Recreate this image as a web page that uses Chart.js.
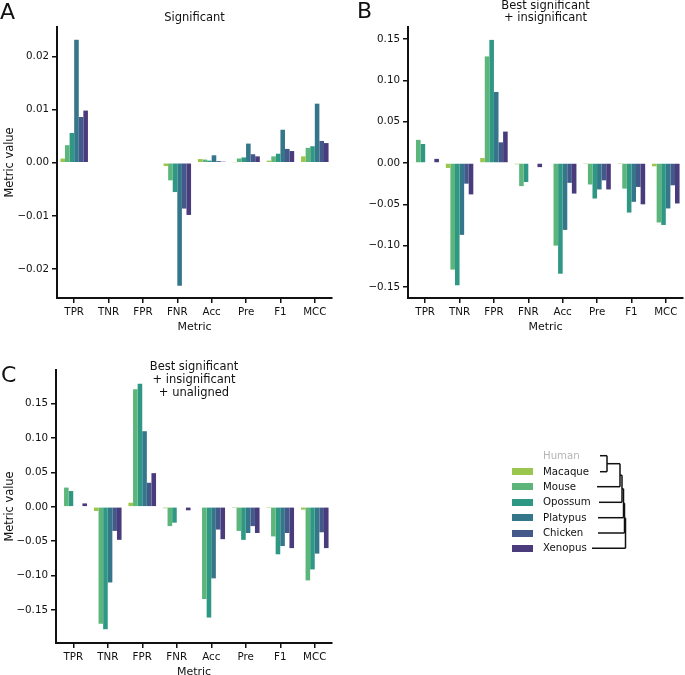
<!DOCTYPE html>
<html>
<head>
<meta charset="utf-8">
<script src="https://cdn.jsdelivr.net/npm/chart.js@4.4.1/dist/chart.umd.min.js"></script>
<style>
  html, body { margin: 0; padding: 0; background: #fff; overflow: hidden; }
  body { width: 685px; height: 675px; position: relative; font-family: 'DejaVu Sans', sans-serif; }
  canvas { position: absolute; }
  .leg { position: absolute; font-size: 10.2px; line-height: 12px; color: #111; }
  .sw { position: absolute; width: 21px; height: 7px; }
</style>
</head>
<body>
<canvas id="chartA" width="340" height="334" style="left:0;top:0"></canvas>
<canvas id="chartB" width="340" height="334" style="left:345px;top:0"></canvas>
<canvas id="chartC" width="340" height="339" style="left:0;top:340px"></canvas>
<canvas id="tree" width="180" height="120" style="left:500px;top:445px"></canvas>
<div id="legend"></div>
<script>
const metrics = ['TPR', 'TNR', 'FPR', 'FNR', 'Acc', 'Pre', 'F1', 'MCC'];
const species = ['Macaque', 'Mouse', 'Opossum', 'Platypus', 'Chicken', 'Xenopus'];
const colors = ['#9bc64d', '#5cb67b', '#2f9884', '#36768a', '#43598a', '#4a3b7c'];

// rows follow species order, columns follow metrics
const significant = [
  [0.0008, 0, 0, -0.0006, 0.0007, 0.0001, 0.0004, 0.0012],
  [0.0033, 0, 0, -0.0033, 0.0006, 0.0008, 0.0012, 0.0028],
  [0.0056, 0, 0, -0.0055, 0.0004, 0.0010, 0.0017, 0.0031],
  [0.0231, 0, 0, -0.0231, 0.0014, 0.0036, 0.0062, 0.0111],
  [0.0086, 0, 0, -0.0086, 0.0003, 0.0016, 0.0026, 0.0041],
  [0.0098, 0, 0, -0.0098, 0.0002, 0.0012, 0.0022, 0.0037]
];
const bestInsig = [
  [0.001, -0.006, 0.006, -0.0015, -0.001, -0.0005, -0.0005, -0.004],
  [0.028, -0.129, 0.129, -0.028, -0.100, -0.026, -0.031, -0.072],
  [0.023, -0.148, 0.149, -0.023, -0.134, -0.043, -0.060, -0.075],
  [0, -0.087, 0.086, 0, -0.081, -0.032, -0.047, -0.055],
  [0, -0.025, 0.025, 0, -0.024, -0.021, -0.029, -0.027],
  [0.005, -0.038, 0.038, -0.005, -0.037, -0.032, -0.050, -0.049]
];
const bestInsigUnal = [
  [0.001, -0.006, 0.006, -0.002, -0.001, -0.0005, -0.0005, -0.004],
  [0.028, -0.170, 0.171, -0.028, -0.134, -0.035, -0.043, -0.107],
  [0.023, -0.178, 0.179, -0.023, -0.161, -0.048, -0.069, -0.091],
  [0, -0.110, 0.110, 0, -0.104, -0.038, -0.057, -0.068],
  [0, -0.035, 0.035, 0, -0.033, -0.028, -0.038, -0.037],
  [0.005, -0.048, 0.049, -0.005, -0.047, -0.038, -0.060, -0.060]
];

Chart.defaults.font.family = "'DejaVu Sans', sans-serif";
Chart.defaults.font.size = 10.3;
Chart.defaults.color = '#111';

// panel letter + title drawn on top of each chart
const decor = {
  id: 'decor',
  afterDraw(chart, args, opts) {
    const ctx = chart.ctx;
    const ca = chart.chartArea;
    ctx.save();
    ctx.fillStyle = '#111';
    ctx.textAlign = 'center';
    ctx.textBaseline = 'middle';
    ctx.font = "11.5px 'DejaVu Sans'";
    opts.lines.forEach((t, i) => ctx.fillText(t, (ca.left + ca.right) / 2, opts.titleY + i * opts.lineGap));
    ctx.textAlign = 'left';
    ctx.textBaseline = 'alphabetic';
    ctx.font = "22px 'DejaVu Sans'";
    ctx.fillText(opts.letter, opts.letterX, opts.letterY);
    ctx.restore();
  }
};

function fmt(v) {
  if (Math.abs(v) < 1e-9) return '0.00';
  return (v < 0 ? '\u2212' : '') + Math.abs(v).toFixed(2);
}

function makeChart(id, rows, yMin, yMax, step, yTitle, yWidth, padTop, padRight, deco) {
  new Chart(document.getElementById(id), {
    type: 'bar',
    data: {
      labels: metrics,
      datasets: species.map((s, i) => ({
        label: s,
        data: rows[i],
        backgroundColor: colors[i],
        borderWidth: 0,
        categoryPercentage: 0.8,
        barPercentage: 1.0
      }))
    },
    options: {
      responsive: false,
      animation: false,
      layout: { padding: { top: padTop, right: padRight, left: 0, bottom: 0 } },
      plugins: { legend: { display: false }, tooltip: { enabled: false }, decor: deco },
      scales: {
        x: {
          offset: true,
          grid: { display: true, drawOnChartArea: false, offset: false, tickLength: 5, color: '#111', lineWidth: 1.5 },
          border: { display: true, color: '#111', width: 2 },
          ticks: { padding: 3, maxRotation: 0 },
          title: { display: true, text: 'Metric', font: { size: 11 }, padding: { top: 0, bottom: 0.5 } },
          afterFit: s => { s.height = 36; }
        },
        y: {
          min: yMin,
          max: yMax,
          grid: { display: true, drawOnChartArea: false, tickLength: 5, color: '#111', lineWidth: 1.5 },
          border: { display: true, color: '#111', width: 2 },
          ticks: { stepSize: step, includeBounds: false, padding: 3, callback: v => fmt(v) },
          title: { display: yTitle, text: 'Metric value', font: { size: 11.4 }, padding: { top: 3.2, bottom: 0 } },
          afterFit: s => { s.width = yWidth; }
        }
      }
    },
    plugins: [decor]
  });
}

makeChart('chartA', significant, -0.0254, 0.0255, 0.01, true, 57, 27, 8,
  { lines: ['Significant'], titleY: 18, lineGap: 13, letter: 'A', letterX: 0, letterY: 19 });
makeChart('chartB', bestInsig, -0.1634, 0.1646, 0.05, false, 63, 27, 2,
  { lines: ['Best significant', '+ insignificant'], titleY: 6, lineGap: 12.4, letter: 'B', letterX: 12, letterY: 17.5 });
makeChart('chartC', bestInsigUnal, -0.198, 0.199, 0.05, true, 56, 30, 8,
  { lines: ['Best significant', '+ insignificant', '+ unaligned'], titleY: 26.7, lineGap: 13, letter: 'C', letterX: 1, letterY: 41.7 });

// legend with Human as reference (no bars)
const legendNames = ['Human'].concat(species);
const rowY = [455.7, 471.7, 486.7, 502.3, 517.7, 533, 548.3];
const legend = document.getElementById('legend');
legendNames.forEach((n, i) => {
  const t = document.createElement('div');
  t.className = 'leg';
  t.textContent = n;
  t.style.left = '543px';
  t.style.top = (rowY[i] - 6) + 'px';
  if (i === 0) t.style.color = '#b5b5b5';
  legend.appendChild(t);
  if (i > 0) {
    const sw = document.createElement('div');
    sw.className = 'sw';
    sw.style.left = '512px';
    sw.style.top = (rowY[i] - 3.5) + 'px';
    sw.style.background = colors[i - 1];
    legend.appendChild(sw);
  }
});

// species tree next to the legend
const leafX = [600, 600, 597, 599, 598, 598, 592];
const joinX = [607, 620, 622, 623.5, 624.5, 625.5];
const tctx = document.getElementById('tree').getContext('2d');
const ox = 500, oy = 445;
tctx.strokeStyle = '#111';
tctx.lineWidth = 1.5;
function seg(x1, y1, x2, y2) {
  tctx.beginPath();
  tctx.moveTo(x1 - ox, y1 - oy);
  tctx.lineTo(x2 - ox, y2 - oy);
  tctx.stroke();
}
let nodeX = leafX[0], nodeY = rowY[0];
for (let k = 1; k < legendNames.length; k++) {
  const jx = joinX[k - 1];
  seg(nodeX, nodeY, jx, nodeY);
  seg(leafX[k], rowY[k], jx, rowY[k]);
  seg(jx, nodeY, jx, rowY[k]);
  nodeY = (nodeY + rowY[k]) / 2;
  nodeX = jx;
}
</script>
</body>
</html>
